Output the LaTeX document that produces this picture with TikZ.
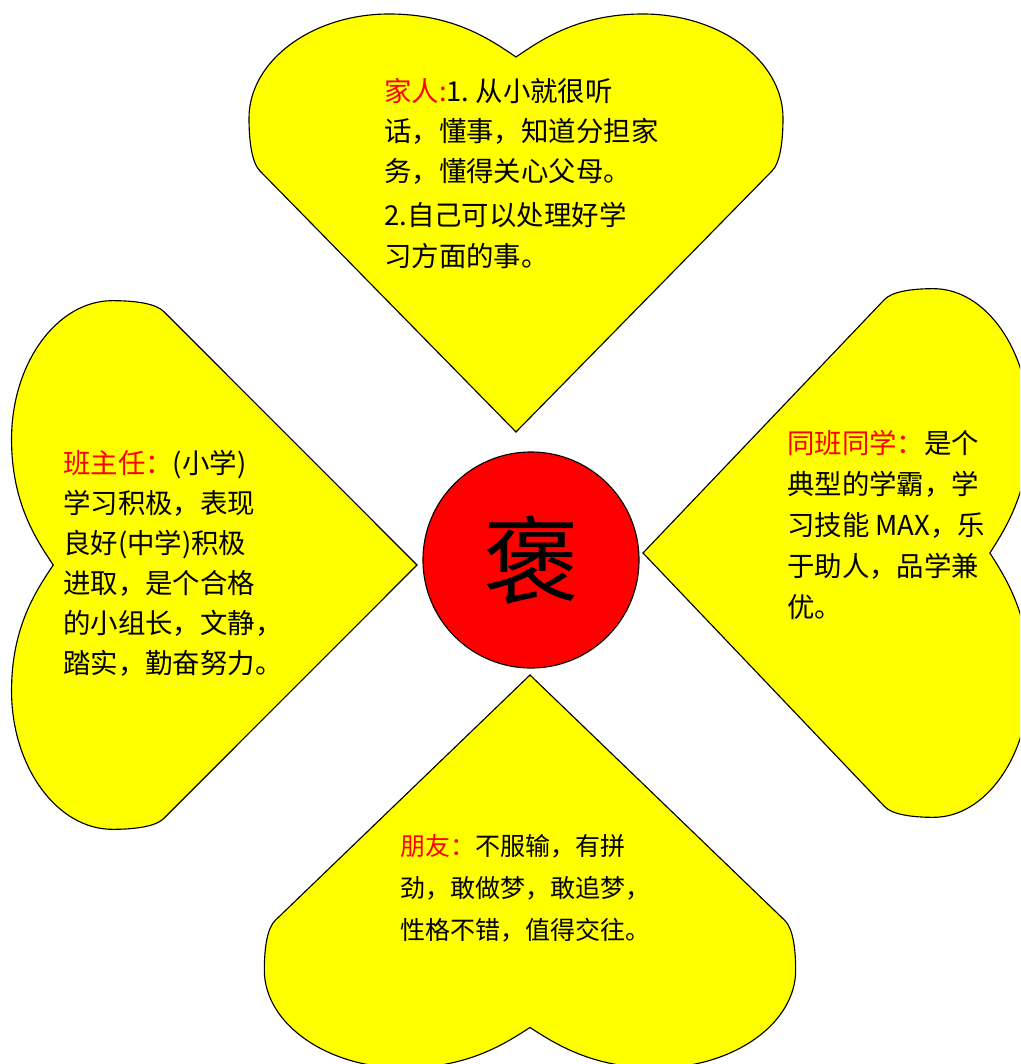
\documentclass[tikz,border=0pt]{standalone}
\usepackage{fontspec}
\usepackage{tikz}
\newfontfamily\cjk{Noto Sans CJK SC}
\definecolor{heartyellow}{RGB}{255,255,0}
\definecolor{baored}{RGB}{255,0,0}

\newcommand{\heartshape}{(0,0) -- (256,-261)
  .. controls (264,-269) and (267,-290) .. (267,-314)
  .. controls (267,-371) and (204,-418) .. (127,-418)
  .. controls (62,-418) and (25,-392) .. (0,-375)
  .. controls (-25,-392) and (-62,-418) .. (-127,-418)
  .. controls (-204,-418) and (-267,-371) .. (-267,-314)
  .. controls (-267,-290) and (-264,-269) .. (-256,-261) -- cycle}

\begin{document}
\begin{tikzpicture}[x=0.025cm, y=-0.025cm,
    heart/.style={fill=heartyellow, draw=black, line width=0.8pt},
    says/.style={anchor=north west, inner sep=0pt, align=left, font=\cjk\fontsize{19.5pt}{28.5pt}\selectfont}]

    \useasboundingbox (0,0) rectangle (1020,1064);
    \clip (0,0) rectangle (1020,1064);

    \begin{scope}[shift={(516,432)}]
      \path[heart] \heartshape;
    \end{scope}
    \begin{scope}[shift={(417,565)}, rotate=90, yscale=0.97, xscale=0.99]
      \path[heart] \heartshape;
    \end{scope}
    \begin{scope}[shift={(643,553)}, rotate=-90, yscale=0.925, xscale=0.99]
      \path[heart] \heartshape;
    \end{scope}
    \begin{scope}[shift={(530,675)}, rotate=180, yscale=0.94, xscale=0.995]
      \path[heart] \heartshape;
    \end{scope}

    \node[circle, draw=black, fill=baored, line width=0.8pt, minimum size=5.4cm, inner sep=0pt,
          font=\cjk\fontsize{68pt}{68pt}\selectfont] (bao) at (531,560) {褒\hspace{0.7cm}};

    \node[says] (family) at (384,78)
      {\textcolor{baored}{家人:}1.\ 从小就很听\\ 话，懂事，知道分担家\\ 务，懂得关心父母。\\[3pt] 2.自己可以处理好学\\ 习方面的事。};
    \node[says] (teacher) at (63,450)
      {\textcolor{baored}{班主任：}(小学)\\ 学习积极，表现\\ 良好(中学)积极\\ 进取，是个合格\\ 的小组长，文静，\\ 踏实，勤奋努力。};
    \node[says, font=\cjk\fontsize{19.5pt}{29.2pt}\selectfont] (classmate) at (787,430)
      {\textcolor{baored}{同班同学：}是个\\ 典型的学霸，学\\ 习技能 MAX，乐\\ 于助人，品学兼\\ 优。};
    \node[says, font=\cjk\fontsize{17.8pt}{29.9pt}\selectfont] (friend) at (400,834)
      {\textcolor{baored}{朋友：}不服输，有拼\\ 劲，敢做梦，敢追梦，\\ 性格不错，值得交往。};
\end{tikzpicture}
\end{document}
